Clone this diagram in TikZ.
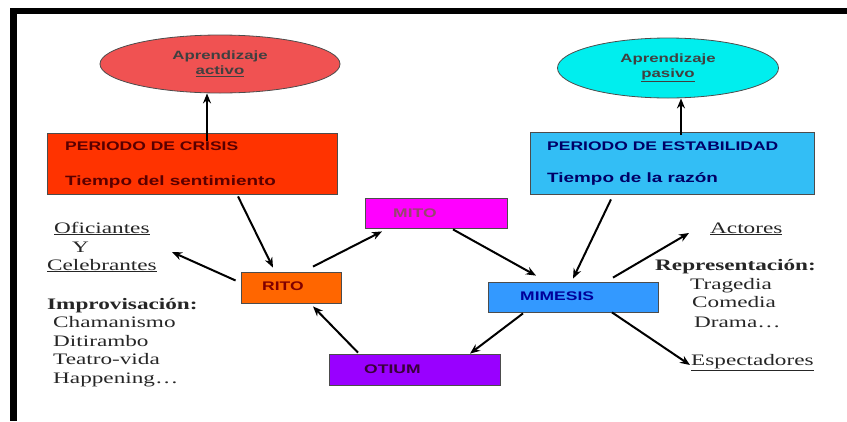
\documentclass[tikz,border=0pt]{standalone}
\usepackage{fontspec}
\setmainfont[FakeStretch=1.45]{Liberation Serif}
\newfontfamily\boxfont[FakeStretch=1.4]{Liberation Sans}
\usetikzlibrary{shapes.geometric,arrows.meta}

\definecolor{crisisred}{RGB}{255,51,0}
\definecolor{ellred}{RGB}{240,82,82}
\definecolor{ellcyan}{RGB}{0,238,238}
\definecolor{estabblue}{RGB}{51,190,245}
\definecolor{ritoorange}{RGB}{255,102,0}
\definecolor{mitomag}{RGB}{255,0,255}
\definecolor{mimblue}{RGB}{51,153,255}
\definecolor{otiumpurple}{RGB}{153,0,255}

\tikzset{
  box/.style={draw=black!70, line width=0.8pt, inner sep=0pt},
  ell/.style={ellipse, draw=black!70, line width=0.8pt, inner sep=0pt, align=center,
    text=black!75, font=\boxfont\bfseries\fontsize{12}{15}\selectfont},
  boxtxt/.style={font=\boxfont\bfseries\fontsize{12.5}{14}\selectfont, inner sep=0pt, anchor=base west},
  bigtxt/.style={boxtxt, font=\boxfont\bfseries\fontsize{13.5}{15}\selectfont},
  arr/.style={line width=2pt, -{Stealth[length=10pt,width=8pt]}},
  side/.style={font=\fontsize{16}{18}\selectfont, inner sep=0pt, anchor=base west, text=black!85},
}

\begin{document}
\begin{tikzpicture}[x=1pt,y=-1pt]
    \useasboundingbox (0,0) rectangle (847,421);
    % frame
    \fill[black] (10,8) rectangle (847,14);
    \fill[black] (10,8) rectangle (17,421);

    % ellipses
    \node[ell, fill=ellred, minimum width=240pt, minimum height=58pt] (actEll) at (220,64) {Aprendizaje\\\underline{activo}};
    \node[ell, fill=ellcyan, minimum width=221pt, minimum height=60pt] (pasEll) at (668,68) {Aprendizaje\\\underline{pasivo}};

    % periods
    \node[box, fill=crisisred, minimum width=290pt, minimum height=61pt] (crisis) at (192,163.5) {};
    \node[box, fill=estabblue, minimum width=284pt, minimum height=62pt] (estab) at (672,163) {};
    \node[boxtxt, text=red!35!black] (crisisA) at (65,150) {PERIODO DE CRISIS};
    \node[bigtxt, text=red!35!black] (crisisB) at (65,185) {Tiempo del sentimiento};
    \node[boxtxt, text=blue!40!black] (estabA) at (547,150) {PERIODO DE ESTABILIDAD};
    \node[bigtxt, text=blue!40!black] (estabB) at (547,182) {Tiempo de la razón};

    % cycle
    \node[box, fill=mitomag, minimum width=142pt, minimum height=30pt] (mito) at (436,213) {};
    \node[box, fill=ritoorange, minimum width=100pt, minimum height=31pt] (rito) at (291,287.5) {};
    \node[box, fill=mimblue, minimum width=170pt, minimum height=30pt] (mimesis) at (573,297) {};
    \node[box, fill=otiumpurple, minimum width=171pt, minimum height=31pt] (otium) at (414.5,369.5) {};
    \node[boxtxt, text=magenta!55!black] (mitoT) at (393,217) {MITO};
    \node[boxtxt, text=red!50!black] (ritoT) at (262,290) {RITO};
    \node[boxtxt, text=blue!60!black] (mimesisT) at (520,300) {MIMESIS};
    \node[boxtxt, text=violet!45!black] (otiumT) at (364,373) {OTIUM};

    % left texts
    \node[side] (ofi) at (54,233) {\underline{Oficiantes}};
    \node[side] (ofiY) at (72,252) {Y};
    \node[side] (cele) at (47,270) {\underline{Celebrantes}};
    \node[side, font=\bfseries\fontsize{16}{18}\selectfont] (impro) at (47,309) {Improvisación:};
    \foreach \t [count=\i] in {Chamanismo,Ditirambo,Teatro-vida,Happening\ldots}
        \node[side] (imp\i) at (53,{309+18.5*\i}) {\t};

    % right texts
    \node[side] (act) at (710,233) {\underline{Actores}};
    \node[side, font=\bfseries\fontsize{16}{18}\selectfont] (repr) at (655,270) {Representación:};
    \foreach \t/\x/\y [count=\i] in {Tragedia/690/289,Comedia/692/307,Drama\ldots/694/327}
        \node[side] (rep\i) at (\x,\y) {\t};
    \node[side] (esp) at (691,365) {\underline{Espectadores}};

    \coordinate (ofiTip) at (172,252);
    \coordinate (actTip) at (689,233);
    \coordinate (espTip) at (690,365);

    % arrows
    \draw[arr] ([xshift=15pt,yshift=-8pt]crisis.north) -- ([xshift=-13pt]actEll.south);
    \draw[arr] ([xshift=9pt,yshift=-3pt]estab.north) -- ([xshift=13pt]pasEll.south);
    \draw[arr] ([xshift=46pt,yshift=-2pt]crisis.south) -- ([xshift=-18pt,yshift=4pt]rito.north);
    \draw[arr] ([xshift=-5pt,yshift=7pt]rito.west) -- (ofiTip);
    \draw[arr] ([xshift=22pt,yshift=5pt]rito.north) -- ([xshift=-54pt,yshift=-3pt]mito.south);
    \draw[arr] ([xshift=17pt,yshift=-1pt]mito.south) -- ([xshift=-37pt,yshift=6pt]mimesis.north);
    \draw[arr] ([xshift=-61pt,yshift=-5pt]estab.south) -- ([yshift=3pt]mimesis.north);
    \draw[arr] ([xshift=40pt,yshift=4pt]mimesis.north) -- (actTip);
    \draw[arr] ([xshift=39pt]mimesis.south) -- (espTip);
    \draw[arr] ([xshift=-50pt,yshift=-1pt]mimesis.south) -- ([xshift=55.5pt]otium.north);
    \draw[arr] ([xshift=-56.5pt,yshift=1pt]otium.north) -- ([xshift=22pt,yshift=-3pt]rito.south);
\end{tikzpicture}
\end{document}
